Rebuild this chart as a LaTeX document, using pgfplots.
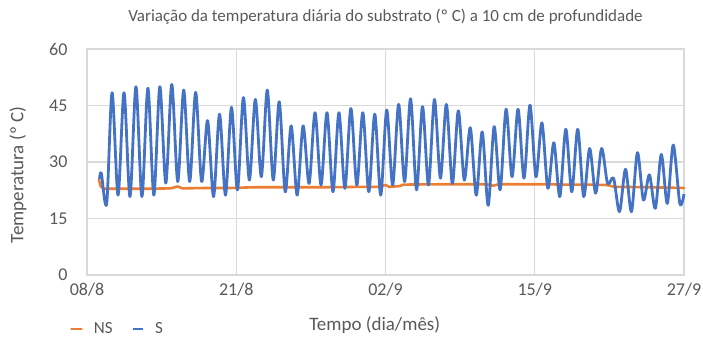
\documentclass[border=0pt]{standalone}
\usepackage{pgfplots}
\pgfplotsset{compat=1.18}
\usepackage{fontspec}
\setmainfont{Carlito}
\definecolor{sblue}{HTML}{4472C4}
\definecolor{nsorange}{HTML}{ED7D31}
\definecolor{gridgray}{HTML}{D9D9D9}
\definecolor{txtgray}{HTML}{595959}
\begin{document}
\begin{tikzpicture}
\useasboundingbox (0,0) rectangle (703pt,340pt);
\begin{axis}[
  at={(87pt,65pt)}, anchor=south west,
  scale only axis, width=597pt, height=226pt,
  xmin=0, xmax=50, ymin=0, ymax=60,
  xtick={0,12.5,25,37.5,50},
  xticklabels={08/8,21/8,02/9,15/9,27/9},
  ytick={0,15,30,45,60},
  /pgf/number format/assume math mode=true,
  major tick length=0pt,
  grid=major,
  major grid style={gridgray, line width=1.2pt},
  axis line style={gridgray, line width=1.2pt},
  ticklabel style={font=\fontsize{18}{21}\selectfont, text=txtgray},
  yticklabel style={xshift=-16pt},
  xticklabel style={yshift=-4pt},
  title={Variação da temperatura diária do substrato (º C) a 10 cm de profundidade},
  title style={at={(axis description cs:0.5,1.115)}, anchor=center, font=\fontsize{17}{20}\selectfont, text=txtgray},
  xlabel={Tempo (dia/mês)},
  xlabel style={at={(axis description cs:0.482,-0.221)}, anchor=center, font=\fontsize{19}{22}\selectfont, text=txtgray},
  ylabel={Temperatura (º C)},
  ylabel style={at={(axis description cs:-0.1156,0.442)}, anchor=center, rotate=0, font=\fontsize{19}{22}\selectfont, text=txtgray},
  legend columns=2,
  legend style={at={(axis description cs:-0.03,-0.238)}, anchor=west, draw=none, fill=none,
    font=\fontsize{17}{20}\selectfont, text=txtgray, inner sep=1pt,
    nodes={inner sep=1pt},
    /tikz/every odd column/.append style={column sep=10pt},
    /tikz/every even column/.append style={column sep=18pt}},
  legend image code/.code={\draw[#1, line width=2.5pt] (0pt,0pt) -- (10pt,0pt);},
  clip=false,
]
\addplot[nsorange, line width=2.6pt, line cap=round, line join=round] coordinates {
(1.0,25.3)(1.15,23.5)(1.4,22.9)(5,22.9)(7,23.0)(7.6,23.5)(8.0,23.0)(10,23.1)(12,23.1)(14,23.3)(17,23.3)(20,23.3)(23,23.4)(24.5,23.4)(25.0,23.9)(25.3,23.4)(26.2,23.6)(26.5,24.0)(30,24.1)(33.5,24.1)(34,23.7)(34.5,24.1)(38,24.1)(40,24.0)(42,24.0)(43.5,23.9)(44.2,23.4)(47,23.3)(50,23.1)
};
\addlegendentry{NS}
\addplot[sblue, line width=2.8pt, smooth, tension=0.5, line join=round] coordinates {
(1.05,25.5)(1.2,27.0)(1.65,19.0)
(2.1,48.4)(2.6,21.2)
(3.1,48.4)(3.6,20.8)
(4.1,50.0)(4.6,20.8)
(5.1,49.6)(5.6,21.2)
(6.1,50.0)(6.6,24.4)
(7.1,50.6)(7.6,24.8)
(8.1,49.1)(8.6,24.8)
(9.1,48.5)(9.6,24.8)
(10.1,41.0)(10.6,20.8)
(11.1,42.7)(11.6,21.2)
(12.1,44.5)(12.6,22.6)
(13.1,47.1)(13.6,25.2)
(14.1,46.6)(14.6,26.1)
(15.1,49.1)(15.6,25.2)
(16.1,46.0)(16.6,22.1)
(17.1,39.6)(17.6,21.2)
(18.1,39.6)(18.6,24.3)
(19.1,43.1)(19.6,23.9)
(20.1,43.1)(20.6,22.1)
(21.1,43.1)(21.6,23.0)
(22.1,44.2)(22.6,23.9)
(23.1,43.1)(23.6,22.1)
(24.1,42.7)(24.6,21.2)
(25.1,43.8)(25.6,23.9)
(26.1,45.3)(26.6,24.8)
(27.1,46.8)(27.6,22.6)
(28.1,44.7)(28.6,23.9)
(29.1,46.6)(29.6,25.7)
(30.1,45.3)(30.6,24.3)
(31.1,43.6)(31.6,25.2)
(32.1,39.1)(32.6,21.2)
(33.1,38.0)(33.6,18.5)
(34.1,39.4)(34.6,22.6)
(35.1,44.0)(35.6,26.1)
(36.1,44.0)(36.6,25.7)
(37.1,45.1)(37.6,26.1)
(38.1,40.4)(38.6,23.0)
(39.1,35.1)(39.6,20.8)
(40.1,38.7)(40.6,22.1)
(41.1,38.7)(41.6,20.8)
(42.1,33.6)(42.6,21.7)
(43.1,33.6)(43.6,24.3)
(44.1,25.7)(44.6,16.8)
(45.1,28.1)(45.6,16.8)
(46.1,32.5)(46.6,19.9)
(47.1,26.6)(47.6,17.7)
(48.1,32.0)(48.6,19.0)
(49.1,34.5)(49.65,19.0)(50.0,21.5)
};
\addlegendentry{S}
\end{axis}
\end{tikzpicture}
\end{document}
